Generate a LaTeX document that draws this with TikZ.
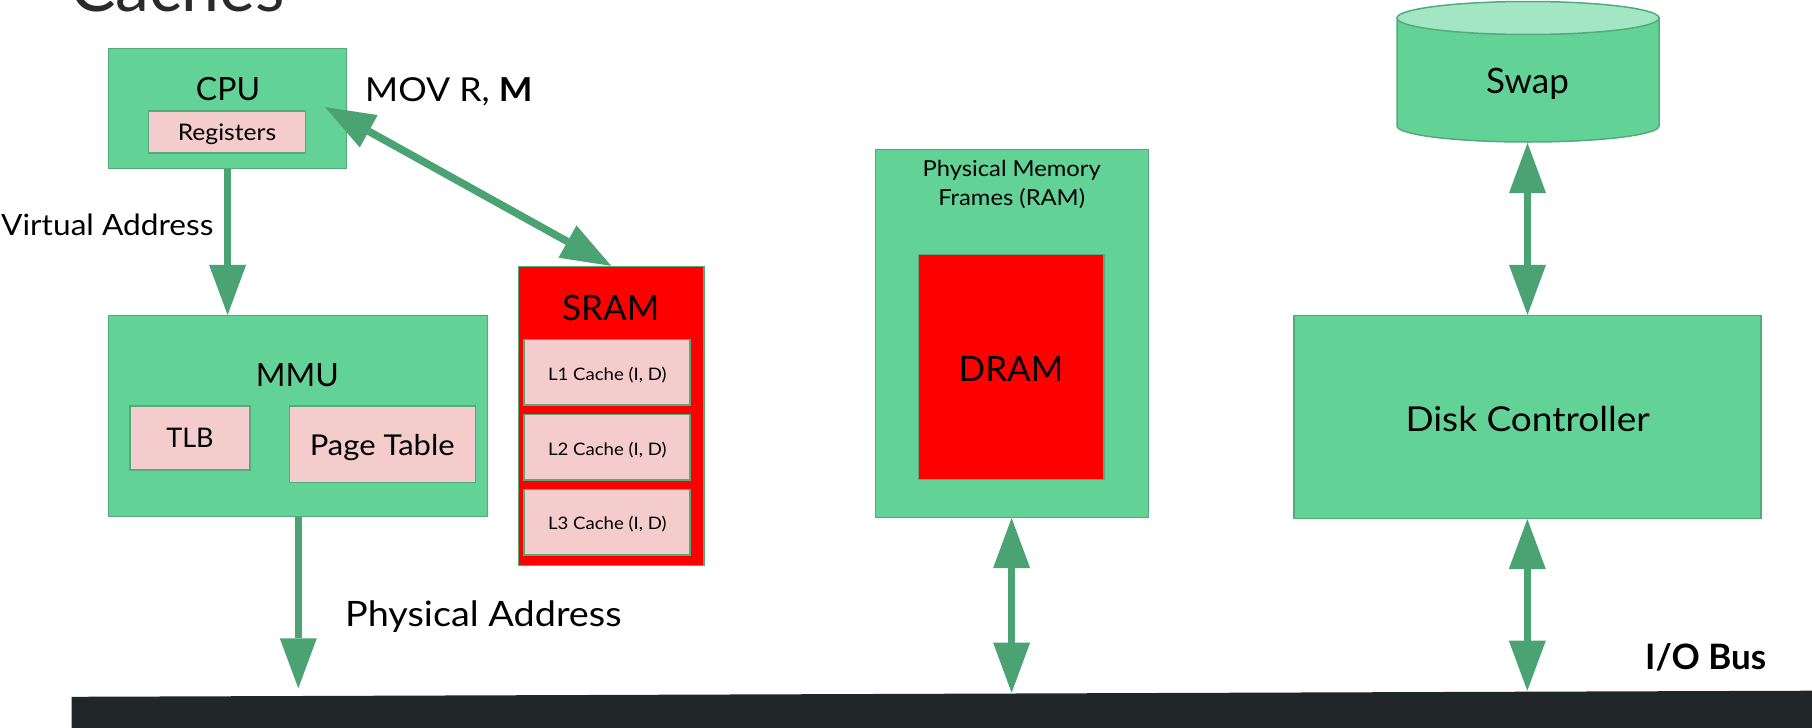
\documentclass[tikz,border=0pt]{standalone}
\usepackage{fontspec}
\setmainfont{Lato}
\newfontfamily\widelato{Lato}[FakeStretch=1.08]
\usetikzlibrary{arrows.meta,calc}
\definecolor{boxgreen}{HTML}{63D297}
\definecolor{edgegreen}{HTML}{53AB7B}
\definecolor{arrowgreen}{HTML}{4BA273}
\definecolor{pinkbox}{HTML}{F4CCCC}
\definecolor{redbox}{HTML}{FF0000}
\definecolor{busdark}{HTML}{212729}
\definecolor{swaptop}{HTML}{A3E6C3}
\definecolor{titlegray}{HTML}{2A2A2A}
\newcommand\myfs[1]{\fontsize{#1}{#1}\selectfont}
\begin{document}
\begin{tikzpicture}[x=1pt,y=-1pt,
  gbox/.style={rectangle, draw=edgegreen, line width=1.5pt, fill=boxgreen, inner sep=0pt},
  pbox/.style={rectangle, draw=edgegreen, line width=1.5pt, fill=pinkbox, inner sep=0pt},
  rbox/.style={rectangle, draw=edgegreen, line width=1.5pt, fill=redbox, inner sep=0pt},
  lbl/.style={anchor=base, inner sep=0pt, text=black},
  lblw/.style={anchor=base west, inner sep=0pt, text=black},
  arr/.style={draw=arrowgreen, line width=7.5pt, -{Triangle[length=50pt,width=37pt,line width=0pt]}},
  darr/.style={draw=arrowgreen, line width=7.5pt, {Triangle[length=50pt,width=37pt,line width=0pt]}-{Triangle[length=50pt,width=37pt,line width=0pt]}}]
\useasboundingbox (0,0) rectangle (1812,728);
\clip (0,0) rectangle (1812,728);

% title (cut off at top)
\node[lblw, font=\myfs{68}, text=titlegray] (title) at (70,12) {Caches};

% CPU
\node[gbox, minimum width=238pt, minimum height=120pt] (cpu) at (227.6,108.6) {};
\node[lbl, font=\myfs{32}] (cputxt) at (228,100) {CPU};
\node[pbox, minimum width=157pt, minimum height=42pt] (regs) at (227,132) {};
\node[lbl, font=\widelato\myfs{22.8}] (regstxt) at (227,140.7) {Registers};

% MMU
\node[gbox, minimum width=379pt, minimum height=201pt] (mmu) at (297.8,416.2) {};
\node[lbl, font=\myfs{32}] (mmutxt) at (297.3,386) {MMU};
\node[pbox, minimum width=120pt, minimum height=64pt] (tlb) at (190,438) {};
\node[lbl, font=\myfs{27}] (tlbtxt) at (190,447.7) {TLB};
\node[pbox, minimum width=186pt, minimum height=76.7pt] (pt) at (382.7,444.3) {};
\node[lbl, font=\widelato\myfs{28.7}] (pttxt) at (382.3,455) {Page Table};

% SRAM
\node[rbox, minimum width=185.5pt, minimum height=299pt] (sram) at (611.2,416.1) {};
\node[lbl, font=\myfs{35}] (sramtxt) at (610.7,320) {SRAM};
\node[pbox, minimum width=166pt, minimum height=65.7pt] (l1) at (607,372.2) {};
\node[lbl, font=\widelato\myfs{17.2}] (l1txt) at (607.3,380) {L1 Cache (I, D)};
\node[pbox, minimum width=166pt, minimum height=65.7pt] (l2) at (607,447.2) {};
\node[lbl, font=\widelato\myfs{17.2}] (l2txt) at (607.3,455) {L2 Cache (I, D)};
\node[pbox, minimum width=166pt, minimum height=65.7pt] (l3) at (607,522.2) {};
\node[lbl, font=\widelato\myfs{17.2}] (l3txt) at (607.3,529.3) {L3 Cache (I, D)};

% Physical memory
\node[gbox, minimum width=272.6pt, minimum height=368pt] (mem) at (1012,333.3) {};
\node[lbl, font=\widelato\myfs{22}] (memtxta) at (1011.7,176.7) {Physical Memory};
\node[lbl, font=\widelato\myfs{22}] (memtxtb) at (1011.7,205) {Frames (RAM)};
\node[rbox, minimum width=185.7pt, minimum height=225pt] (dram) at (1011.2,366.8) {};
\node[lbl, font=\myfs{35}] (dramtxt) at (1011,381.7) {DRAM};

% Swap cylinder
\path[fill=boxgreen, draw=edgegreen, line width=1.5pt]
  (1397,18) -- (1397,126) arc[start angle=180, end angle=0, x radius=131, y radius=16] -- (1659,18) -- cycle;
\path[fill=swaptop, draw=edgegreen, line width=1.5pt] (1528,18) ellipse [x radius=131, y radius=16.5];
\node[lbl, font=\myfs{35}] (swap) at (1527.5,93.3) {Swap};
\coordinate (swapbot) at (1527.5,143);

% Disk controller
\node[gbox, minimum width=467pt, minimum height=202.6pt] (disk) at (1527.7,417) {};
\node[lbl, font=\widelato\myfs{34.3}] (disktxt) at (1527.7,431.7) {Disk Controller};

% free labels
\node[lblw, font=\widelato\myfs{33}] (mov) at (365,101.5) {MOV R, \textbf{M}};
\node[lblw, font=\widelato\myfs{29.3}] (va) at (1,235) {Virtual Address};
\node[lblw, font=\widelato\myfs{35}] (pa) at (345,626.7) {Physical Address};
\node[lblw, font=\myfs{35}\bfseries] (iobus) at (1645,669) {I/O Bus};

% I/O bus bar
\fill[busdark] (71.6,696.8) -- (1812,690.7) -- (1812,730) -- (71.6,730) -- cycle;
\coordinate (busA) at (298.3,688.3);
\coordinate (busB) at (1011.6,692.7);
\coordinate (busC) at (1527.3,690.7);
\coordinate (cpuport) at (325,107);

% connectors
\draw[arr] (cpu.south) -- (cpu.south |- mmu.north);
\draw[darr] (cpuport) -- (sram.north);
\draw[arr] (mmu.south -| busA) -- (busA);
\draw[darr] (mem.south -| busB) -- (busB);
\draw[darr] (disk.south -| busC) -- (busC);
\draw[darr] (swapbot) -- (disk.north -| swapbot);
\end{tikzpicture}
\end{document}
